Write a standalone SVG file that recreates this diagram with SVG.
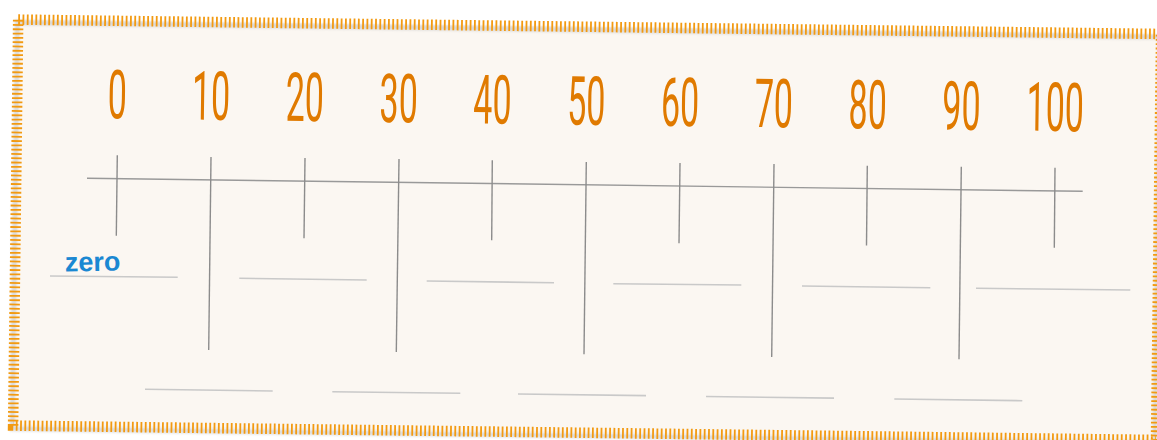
<svg xmlns="http://www.w3.org/2000/svg" width="1157" height="440" viewBox="0 0 1157 440">
<defs>
<style>
.num{font-family:Roboto,"Liberation Sans",sans-serif;font-weight:400;font-size:68px;fill:#e07a00;text-anchor:middle}
.word{font-family:"Liberation Sans","DejaVu Sans",sans-serif;font-weight:bold;font-size:27px;fill:#1a88d2}
.tick{stroke:#8c8c8c;stroke-width:1.4;fill:none}
.axis{stroke:#999;stroke-width:1.4;fill:none}
.blank{stroke:#c9c9c9;stroke-width:1.6;fill:none}
</style>
<filter id="blur" x="-5%" y="-5%" width="110%" height="110%"><feGaussianBlur stdDeviation="1.2"/></filter>
</defs>
<rect width="1157" height="440" fill="#ffffff"/>
<g id="card" transform="translate(18.2,19.6) rotate(0.72)">
<rect x="0" y="0" width="1143" height="406" fill="#fbf7f2"/>
<rect x="-1" y="3" width="1143" height="406" fill="none" stroke="#bdbdbd" stroke-width="5" opacity="0.55" filter="url(#blur)"/>
<rect x="0" y="0" width="1143" height="406" fill="none" stroke="#f29a12" stroke-width="10.5" stroke-dasharray="1.8 2.5"/>
</g>
<g id="labels">
<text class="num" transform="translate(117,118.5) rotate(0.75) scale(0.5,1)">0</text>
<text class="num" transform="translate(210.8,119.7) rotate(0.75) scale(0.5,1)">10</text>
<text class="num" transform="translate(304.6,121) rotate(0.75) scale(0.5,1)">20</text>
<text class="num" transform="translate(398.4,122.2) rotate(0.75) scale(0.5,1)">30</text>
<text class="num" transform="translate(492.2,123.5) rotate(0.75) scale(0.5,1)">40</text>
<text class="num" transform="translate(586,124.7) rotate(0.75) scale(0.5,1)">50</text>
<text class="num" transform="translate(679.8,126) rotate(0.75) scale(0.5,1)">60</text>
<text class="num" transform="translate(773.6,127.2) rotate(0.75) scale(0.5,1)">70</text>
<text class="num" transform="translate(867.4,128.5) rotate(0.75) scale(0.5,1)">80</text>
<text class="num" transform="translate(961.2,129.7) rotate(0.75) scale(0.5,1)">90</text>
<text class="num" transform="translate(1055,131) rotate(0.75) scale(0.5,1)">100</text>
</g>
<g id="number-line">
<line class="axis" x1="87" y1="178.3" x2="1082.7" y2="191.3"/>
<line class="tick" x1="117.3" y1="155.3" x2="116.3" y2="235.7"/>
<line class="tick" x1="211" y1="157" x2="208.7" y2="350"/>
<line class="tick" x1="305" y1="158" x2="304" y2="238.3"/>
<line class="tick" x1="399" y1="159" x2="396.3" y2="352"/>
<line class="tick" x1="492.3" y1="160.3" x2="491.7" y2="240.3"/>
<line class="tick" x1="586.3" y1="162" x2="584" y2="354.3"/>
<line class="tick" x1="680" y1="163" x2="679" y2="243.3"/>
<line class="tick" x1="774" y1="164" x2="771.7" y2="357"/>
<line class="tick" x1="867.3" y1="165.7" x2="866.5" y2="245.5"/>
<line class="tick" x1="961.3" y1="166.7" x2="959" y2="359.3"/>
<line class="tick" x1="1055" y1="167.7" x2="1054.3" y2="247.7"/>
</g>
<g id="answer-lines">
<line class="blank" x1="50" y1="276" x2="177.7" y2="277.3"/>
<line class="blank" x1="239.3" y1="278.3" x2="366.7" y2="280"/>
<line class="blank" x1="426.7" y1="281" x2="554" y2="282.7"/>
<line class="blank" x1="613.3" y1="283.7" x2="741.3" y2="285"/>
<line class="blank" x1="802" y1="286" x2="930.3" y2="287.7"/>
<line class="blank" x1="976" y1="288.3" x2="1130.3" y2="290"/>
<line class="blank" x1="145" y1="389.3" x2="272.7" y2="391"/>
<line class="blank" x1="332.3" y1="391.7" x2="460.3" y2="393.3"/>
<line class="blank" x1="518" y1="394" x2="646" y2="395.6"/>
<line class="blank" x1="706" y1="396.5" x2="834" y2="398.1"/>
<line class="blank" x1="894.3" y1="399" x2="1022.3" y2="400.7"/>
</g>
<g id="answer-zero">
<text class="word" transform="translate(65,271.5) rotate(-1)">zero</text>
</g>
</svg>
